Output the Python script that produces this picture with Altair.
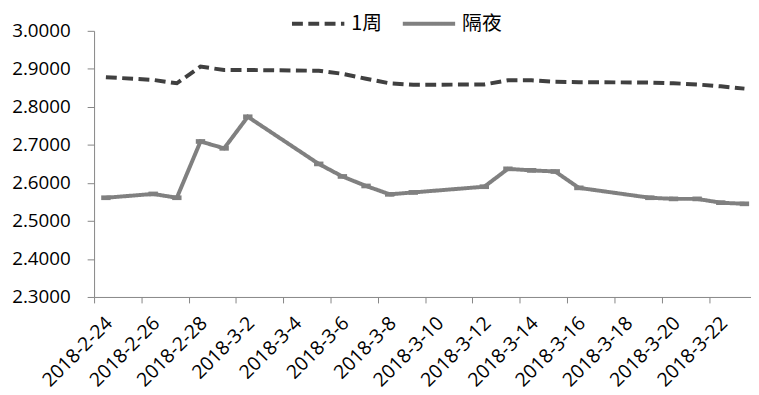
import altair as alt
import pandas as pd

dates = ["2018-02-24", "2018-02-26", "2018-02-27", "2018-02-28", "2018-03-01", "2018-03-02",
         "2018-03-05", "2018-03-06", "2018-03-07", "2018-03-08", "2018-03-09",
         "2018-03-12", "2018-03-13", "2018-03-14", "2018-03-15", "2018-03-16",
         "2018-03-19", "2018-03-20", "2018-03-21", "2018-03-22", "2018-03-23"]
week1 = [2.878, 2.871, 2.862, 2.906, 2.897, 2.897,
         2.895, 2.887, 2.874, 2.862, 2.858,
         2.859, 2.870, 2.870, 2.866, 2.865,
         2.864, 2.862, 2.859, 2.854, 2.848]
overnight = [2.561, 2.571, 2.561, 2.709, 2.691, 2.774,
             2.650, 2.617, 2.592, 2.570, 2.575,
             2.590, 2.637, 2.633, 2.630, 2.587,
             2.561, 2.558, 2.558, 2.548, 2.545]
series_names = ["1周", "隔夜"]
series_colors = ["#404040", "#808080"]
tick_dates = ["2018-02-24", "2018-02-26", "2018-02-28", "2018-03-02", "2018-03-04",
              "2018-03-06", "2018-03-08", "2018-03-10", "2018-03-12", "2018-03-14",
              "2018-03-16", "2018-03-18", "2018-03-20", "2018-03-22"]
y_ticks = [2.3, 2.4, 2.5, 2.6, 2.7, 2.8, 2.9, 3.0]

rows = []
for d, a, b in zip(dates, week1, overnight):
    rows.append({"date": d + "T12:00:00", "series": series_names[0], "value": a})
    rows.append({"date": d + "T12:00:00", "series": series_names[1], "value": b})
df = pd.DataFrame(rows)

def dt(s, hours=0, minutes=0):
    y, m, d = s.split("-")
    return alt.DateTime(year=int(y), month=int(m), date=int(d), hours=hours, minutes=minutes)

x = alt.X("date:T",
          scale=alt.Scale(domain=[dt("2018-02-24"), dt("2018-03-23", 18, 40)]),
          axis=alt.Axis(title=None, values=[dt(t) for t in tick_dates], format="%Y-%-m-%-d",
                        labelAngle=315, labelAlign="right", labelBaseline="middle",
                        labelOffset=15, labelPadding=17, tickSize=6, grid=False,
                        labelFont="Open Sans", labelFontSize=19.5, labelColor="#000000",
                        domainColor="#868686", tickColor="#868686", labelOverlap=False,
                        labelBound=False, labelFlush=False))
y = alt.Y("value:Q",
          scale=alt.Scale(domain=[2.3, 3.0], nice=False, zero=False),
          axis=alt.Axis(title=None, values=y_ticks, format=".4f", tickSize=7, grid=False,
                        labelPadding=17, labelFont="Open Sans", labelFontSize=19,
                        labelColor="#000000", domainColor="#868686", tickColor="#868686"))

color = alt.Color("series:N",
                  scale=alt.Scale(domain=series_names, range=series_colors),
                  legend=alt.Legend(title=None, orient="none", legendX=198, legendY=-36,
                                    direction="horizontal", symbolType="stroke",
                                    symbolSize=2800, symbolStrokeWidth=4,
                                    labelFont="Noto Sans CJK SC", labelFontSize=20,
                                    labelColor="#000000", labelOffset=5, columnPadding=12,
                                    padding=0))
dash = alt.StrokeDash("series:N",
                      scale=alt.Scale(domain=series_names, range=[[11, 5.5], [1, 0]]),
                      legend=None)

lines = alt.Chart(df).mark_line(strokeWidth=4).encode(
    x=x, y=y, color=color, strokeDash=dash)

markers = alt.Chart(df).transform_filter(
    alt.datum.series == series_names[1]
).mark_point(shape="M-1,-0.5L1,-0.5L1,0.5L-1,0.5Z", filled=True, size=90, opacity=1,
             color=series_colors[1]).encode(x=x, y=y)

chart = alt.layer(lines, markers).properties(
    width=664, height=269,
    padding={"left": 87, "top": 21, "right": 0, "bottom": 97},
    autosize=alt.AutoSizeParams(type="none"),
).configure_view(stroke=None)

chart.save("out.html", embed_options={"renderer": "svg", "actions": False})
